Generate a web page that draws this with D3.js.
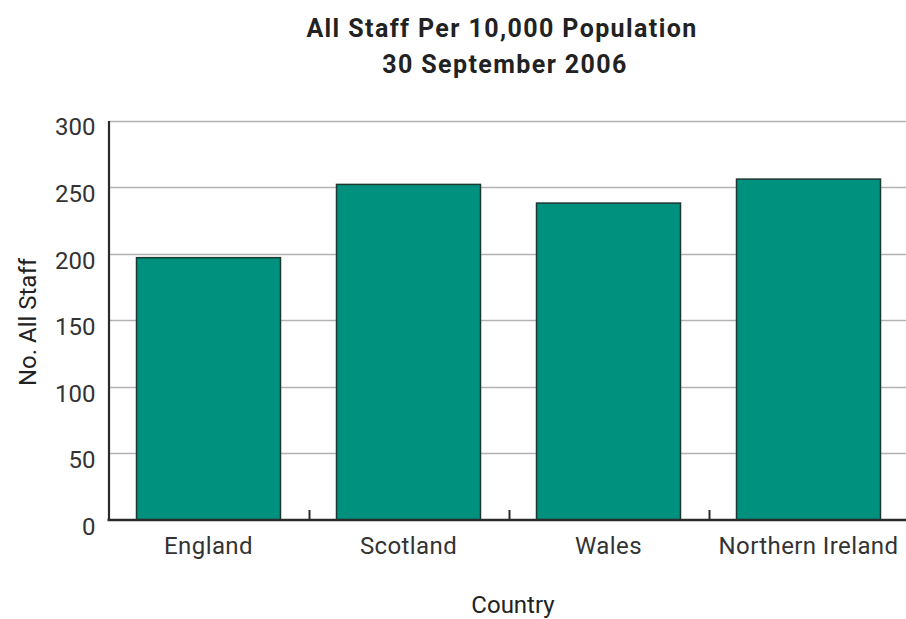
<!DOCTYPE html>
<html><head><meta charset="utf-8">
<script src="https://cdn.jsdelivr.net/npm/d3@7"></script>
<style>body{margin:0;background:#fff}svg{display:block}text{font-family:Roboto,"DejaVu Sans",sans-serif}</style>
</head><body>
<svg id="c" width="906" height="619"></svg>
<script>
const categories = ["England", "Scotland", "Wales", "Northern Ireland"];
const values = [197, 252, 238, 256];
const yTicks = [0, 50, 100, 150, 200, 250, 300];
const titleLines = ["All Staff Per 10,000 Population", "30 September 2006"];
const yLabel = "No. All Staff";
const xLabel = "Country";

(function () {
const svg = d3.select("#c");
const pLeft = 108.5, pRight = 908.5, pTop = 120.5, pBottom = 520;
const x = d3.scaleBand().domain(categories).range([pLeft, pRight]).paddingInner(0.28).paddingOuter(0.14);
const y = d3.scaleLinear().domain([0, 300]).range([pBottom, pTop]);

// gridlines
svg.append("g").selectAll("line").data(yTicks.filter(d => d > 0)).join("line")
  .attr("x1", pLeft).attr("x2", 906).attr("y1", d => Math.round(y(d)) + 0.5).attr("y2", d => Math.round(y(d)) + 0.5)
  .attr("stroke", "#b3b3b3").attr("stroke-width", 1.5);

// bars
svg.append("g").selectAll("rect").data(categories).join("rect")
  .attr("x", d => x(d)).attr("width", x.bandwidth())
  .attr("y", (d, i) => y(values[i])).attr("height", (d, i) => pBottom - y(values[i]))
  .attr("fill", "#00917e").attr("stroke", "#1d3833").attr("stroke-width", 1.5);

// y axis
const ya = svg.append("g").attr("transform", `translate(${pLeft},0)`)
  .call(d3.axisLeft(y).tickValues(yTicks).tickSize(0).tickPadding(13));
ya.select(".domain").attr("stroke", "#2b2b2b").attr("stroke-width", 2.2);
ya.selectAll("text").attr("font-size", 24).attr("dy", "0.6em").attr("fill", "#333")
  .attr("font-family", "Roboto, sans-serif");

// x axis
const xa = svg.append("g").attr("transform", `translate(0,${pBottom})`)
  .call(d3.axisBottom(x).tickSize(0).tickPadding(17));
xa.select(".domain").remove();
xa.selectAll("text").attr("font-size", 24).attr("fill", "#333").attr("letter-spacing", 0.4)
  .attr("font-family", "Roboto, sans-serif");
svg.append("line").attr("x1", pLeft - 1).attr("x2", 906).attr("y1", pBottom).attr("y2", pBottom)
  .attr("stroke", "#2b2b2b").attr("stroke-width", 2.5);
// boundary ticks
const bounds = categories.slice(1).map(d => x(d) - x.step() * x.paddingInner() / 2);
svg.append("g").selectAll("line").data(bounds).join("line")
  .attr("x1", d => Math.round(d) + 0.5).attr("x2", d => Math.round(d) + 0.5)
  .attr("y1", pBottom).attr("y2", pBottom - 10).attr("stroke", "#2b2b2b").attr("stroke-width", 2);

// title
svg.append("text").attr("x", 502).attr("y", 37).attr("text-anchor", "middle").attr("letter-spacing", 1.4)
  .attr("font-size", 25).attr("font-weight", "bold").attr("fill", "#222").text(titleLines[0]);
svg.append("text").attr("x", 505).attr("y", 73).attr("text-anchor", "middle").attr("letter-spacing", 1.4)
  .attr("font-size", 25).attr("font-weight", "bold").attr("fill", "#222").text(titleLines[1]);

// axis labels
svg.append("text").attr("transform", "translate(36,322) rotate(-90)").attr("text-anchor", "middle")
  .attr("font-size", 24).attr("fill", "#222").text(yLabel);
svg.append("text").attr("x", 513).attr("y", 613).attr("text-anchor", "middle")
  .attr("font-size", 24).attr("fill", "#222").text(xLabel);
})();
</script>
</body></html>
